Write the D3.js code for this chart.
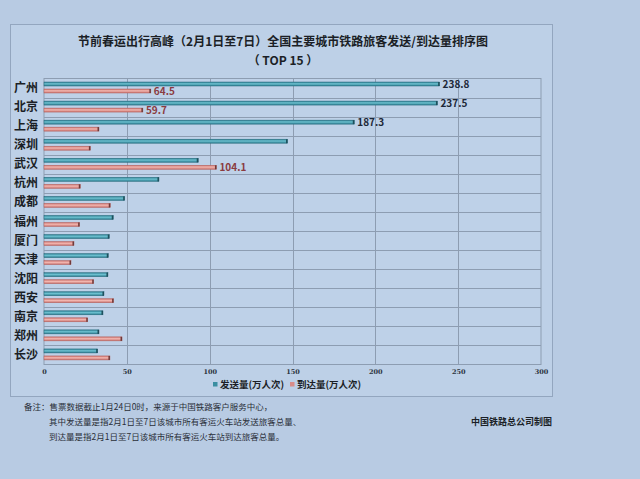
<!DOCTYPE html>
<html>
<head>
<meta charset="utf-8">
<script src="https://cdn.jsdelivr.net/npm/d3@7"></script>
<style>
  html, body { margin: 0; padding: 0; background: #b8cbe3; }
  svg { display: block; font-family: "Noto Sans CJK SC", "Noto Sans", sans-serif; }
</style>
</head>
<body>
<svg id="chart" width="640" height="479"></svg>
<script>
// data
let cities = ["广州", "北京", "上海", "深圳", "武汉", "杭州", "成都", "福州", "厦门", "天津", "沈阳", "西安", "南京", "郑州", "长沙"];
let departures = [238.8, 237.5, 187.3, 147.0, 93.1, 69.4, 48.7, 41.8, 39.4, 38.8, 38.6, 36.2, 35.6, 33.2, 32.4];
let arrivals = [64.5, 59.7, 33.2, 28.0, 104.1, 21.9, 40.0, 21.5, 18.1, 16.3, 30.0, 42.0, 26.4, 47.1, 39.8];
let departLabels = ["238.8", "237.5", "187.3"];
let arriveLabels = ["64.5", "59.7", null, null, "104.1"];
let xTicks = [0, 50, 100, 150, 200, 250, 300];
let seriesNames = ["发送量(万人次)", "到达量(万人次)"];
let notes = [
  "备注：售票数据截止1月24日0时，来源于中国铁路客户服务中心，",
  "其中发送量是指2月1日至7日该城市所有客运火车站发送旅客总量、",
  "到达量是指2月1日至7日该城市所有客运火车站到达旅客总量。"
];

let svg = d3.select("#chart");

// gradients for the bars
let defs = svg.append("defs");
function grad(id, c1, c2, c3) {
  let g = defs.append("linearGradient").attr("id", id)
    .attr("x1", 0).attr("y1", 0).attr("x2", 0).attr("y2", 1);
  g.append("stop").attr("offset", "0%").attr("stop-color", c1);
  g.append("stop").attr("offset", "45%").attr("stop-color", c2);
  g.append("stop").attr("offset", "100%").attr("stop-color", c3);
}
grad("gBlue", "#2e7f93", "#6cc0cf", "#2a7a8e");
grad("gPink", "#c9706c", "#f2b6b0", "#c66e6a");

// panel
svg.append("rect")
  .attr("x", 10.5).attr("y", 24.5)
  .attr("width", 542).attr("height", 372)
  .attr("fill", "#bdd0e7")
  .attr("stroke", "#93a6bf");

// title
svg.append("text")
  .attr("x", 283).attr("y", 46)
  .attr("text-anchor", "middle")
  .attr("font-size", 12).attr("font-weight", "bold")
  .attr("fill", "#1b1f26")
  .text("节前春运出行高峰（2月1日至7日）全国主要城市铁路旅客发送/到达量排序图");
svg.append("text")
  .attr("x", 283).attr("y", 65)
  .attr("text-anchor", "middle")
  .attr("font-size", 12).attr("font-weight", "bold")
  .attr("fill", "#1b1f26")
  .text("（ TOP 15 ）");

// scales
let x = d3.scaleLinear().domain([0, 300]).range([44, 541]);
let y = d3.scaleBand().domain(cities).range([78.5, 364.5]);

let plot = svg.append("g");

plot.append("rect")
  .attr("x", x(0)).attr("y", y.range()[0])
  .attr("width", x(300) - x(0)).attr("height", y.range()[1] - y.range()[0])
  .attr("fill", "#bed1e8")
  .attr("stroke", "#8d9db2");

// horizontal grid between categories
plot.selectAll(".hgrid")
  .data(cities.slice(1))
  .enter()
  .append("line")
  .attr("class", "hgrid")
  .attr("x1", x(0)).attr("x2", x(300))
  .attr("y1", d => Math.round(y(d)) + 0.5)
  .attr("y2", d => Math.round(y(d)) + 0.5)
  .attr("stroke", "#8d9db2");

// vertical grid
plot.selectAll(".vgrid")
  .data(xTicks.slice(1, -1))
  .enter()
  .append("line")
  .attr("class", "vgrid")
  .attr("y1", y.range()[0]).attr("y2", y.range()[1])
  .attr("x1", d => Math.round(x(d)) + 0.5)
  .attr("x2", d => Math.round(x(d)) + 0.5)
  .attr("stroke", "#8d9db2");

// x axis labels
let xAxis = d3.axisBottom(x).tickValues(xTicks).tickSize(0).tickPadding(5);
let ax = svg.append("g")
  .attr("transform", `translate(0,${y.range()[1]})`)
  .call(xAxis);
ax.select(".domain").remove();
ax.selectAll("text")
  .attr("font-family", "'DejaVu Serif', serif")
  .attr("font-size", 6.5).attr("font-weight", "bold")
  .attr("fill", "#2a3340");

// category labels
plot.selectAll(".cat")
  .data(cities)
  .enter()
  .append("text")
  .attr("class", "cat")
  .attr("x", 14)
  .attr("y", d => y(d) + y.bandwidth() / 2 + 4)
  .attr("font-size", 12).attr("font-weight", "bold")
  .attr("fill", "#1b1f26")
  .text(d => d);

// bars
let barH = 4;
plot.selectAll(".dep")
  .data(departures)
  .enter()
  .append("rect")
  .attr("class", "dep")
  .attr("x", x(0))
  .attr("y", (d, i) => y(cities[i]) + 3.5)
  .attr("width", d => x(d) - x(0))
  .attr("height", barH)
  .attr("fill", "url(#gBlue)")
  .attr("stroke", "#246a7b").attr("stroke-width", 0.5);

plot.selectAll(".arr")
  .data(arrivals)
  .enter()
  .append("rect")
  .attr("class", "arr")
  .attr("x", x(0))
  .attr("y", (d, i) => y(cities[i]) + 10.5)
  .attr("width", d => x(d) - x(0))
  .attr("height", barH)
  .attr("fill", "url(#gPink)")
  .attr("stroke", "#b4605c").attr("stroke-width", 0.5);

// end caps
plot.selectAll(".depcap")
  .data(departures)
  .enter()
  .append("rect")
  .attr("x", d => x(d) - 1.5)
  .attr("y", (d, i) => y(cities[i]) + 3.5)
  .attr("width", 1.5).attr("height", barH)
  .attr("fill", "#1f4f5c");
plot.selectAll(".arrcap")
  .data(arrivals)
  .enter()
  .append("rect")
  .attr("x", d => x(d) - 1.5)
  .attr("y", (d, i) => y(cities[i]) + 10.5)
  .attr("width", 1.5).attr("height", barH)
  .attr("fill", "#6e3a3a");

// value labels (only for the cities that carry one)
let depLbl = departLabels.map((t, i) => ({ t: t, i: i })).filter(d => d.t !== null);
let arrLbl = arriveLabels.map((t, i) => ({ t: t, i: i })).filter(d => d.t !== null);

plot.selectAll(".deplbl")
  .data(depLbl)
  .enter()
  .append("text")
  .attr("x", d => x(departures[d.i]) + 3)
  .attr("y", d => y(cities[d.i]) + 9.5)
  .attr("font-size", 10).attr("font-weight", "bold")
  .attr("fill", "#1d2838")
  .text(d => d.t);

plot.selectAll(".arrlbl")
  .data(arrLbl)
  .enter()
  .append("text")
  .attr("x", d => x(arrivals[d.i]) + 3)
  .attr("y", d => y(cities[d.i]) + 16.5)
  .attr("font-size", 10).attr("font-weight", "bold")
  .attr("fill", "#8a3b40")
  .text(d => d.t);

// legend
let legendColors = ["#3b8ea1", "#d98c88"];
let legendX = [213, 290];
let legend = svg.selectAll(".legend")
  .data(seriesNames)
  .enter()
  .append("g")
  .attr("transform", (d, i) => `translate(${legendX[i]},386)`);
legend.append("rect")
  .attr("x", 0).attr("y", -4)
  .attr("width", 4.5).attr("height", 4.5)
  .attr("fill", (d, i) => legendColors[i]);
legend.append("text")
  .attr("x", 7).attr("y", 1.5)
  .attr("font-size", 9.5).attr("font-weight", "bold")
  .attr("fill", "#1b1f26")
  .text(d => d);

// footnotes
svg.selectAll(".note")
  .data(notes)
  .enter()
  .append("text")
  .attr("x", (d, i) => i === 0 ? 24 : 49)
  .attr("y", (d, i) => 410 + i * 15)
  .attr("font-size", 8.5)
  .attr("fill", "#2a2f38")
  .text(d => d);

svg.append("text")
  .attr("x", 552).attr("y", 425)
  .attr("text-anchor", "end")
  .attr("font-size", 9).attr("font-weight", "bold")
  .attr("fill", "#1b1f26")
  .text("中国铁路总公司制图");
</script>
</body>
</html>
